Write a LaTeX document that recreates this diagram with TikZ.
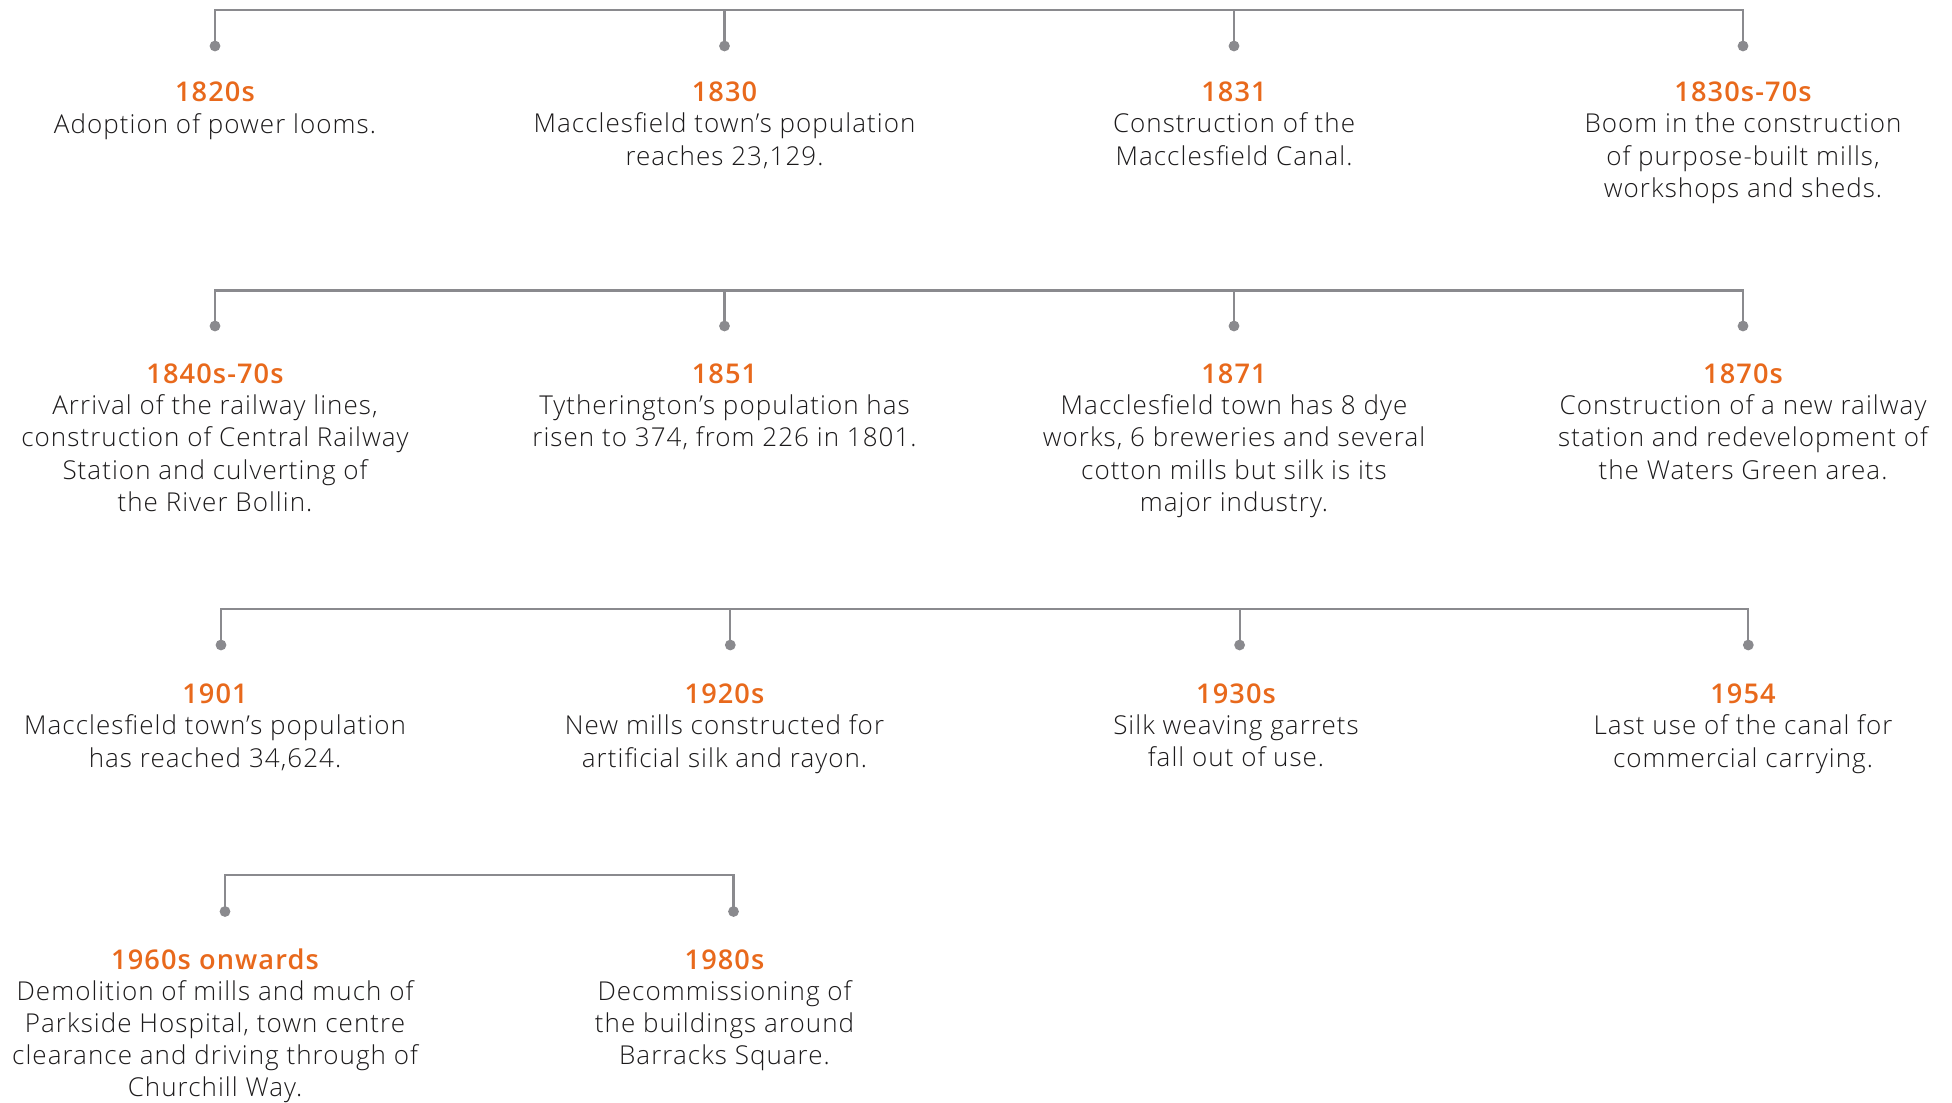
\documentclass[tikz,border=0pt]{standalone}
\usepackage{fontspec}
\setmainfont{Open Sans}[UprightFont=* Light,LetterSpace=4]
\usetikzlibrary{positioning,calc}
\definecolor{milorange}{HTML}{E8691C}
\definecolor{railgrey}{HTML}{8A8A8E}
\definecolor{bodytext}{HTML}{1C1A1B}

\begin{document}
\begin{tikzpicture}[x=.5pt,y=-.5pt,
  rail/.style={draw=railgrey,line width=1.1pt},
  dot/.style={circle,fill=railgrey,inner sep=0pt,minimum size=5.4pt},
  year/.style={anchor=base,inner sep=0pt,text=milorange,font=\fontsize{13.6}{16.15}\selectfont\bfseries},
  desc/.style={inner sep=0pt,align=center,text=bodytext,font=\fontsize{13}{16.15}\selectfont,
    execute at begin node=\strut}]
\useasboundingbox (0,0) rectangle (1952,1102);

% first row: 1820s to 1870s
\coordinate (r1) at (0,10);
\node[dot] (p11) at (215,46) {};
\node[dot] (p12) at (724.5,46) {};
\node[dot] (p13) at (1234,46) {};
\node[dot] (p14) at (1743,46) {};
\draw[rail] (p11.center) |- (p14.center |- r1) -- (p14.center);
\draw[rail] (p12.center) -- (p12.center |- r1);
\draw[rail] (p13.center) -- (p13.center |- r1);
\node[year] (y1820s) at (215,102) {1820s};
\node[desc,below=4.35pt of y1820s.base] (d1820s) {Adoption of power looms.};
\node[year] (y1830) at (724.5,102) {1830};
\node[desc,below=5.35pt of y1830.base] (d1830) {Macclesfield town’s population\\reaches 23,129.};
\node[year] (y1831) at (1234,102) {1831};
\node[desc,below=5.35pt of y1831.base] (d1831) {Construction of the\\Macclesfield Canal.};
\node[year] (y1830s) at (1743,102) {1830s-70s};
\node[desc,below=5.35pt of y1830s.base] (d1830s) {Boom in the construction\\of purpose-built mills,\\workshops and sheds.};

% second row: 1840s to 1870s
\coordinate (r2) at (0,290.5);
\node[dot] (p21) at (215,326) {};
\node[dot] (p22) at (724.5,326) {};
\node[dot] (p23) at (1234,326) {};
\node[dot] (p24) at (1743,326) {};
\draw[rail] (p21.center) |- (p24.center |- r2) -- (p24.center);
\draw[rail] (p22.center) -- (p22.center |- r2);
\draw[rail] (p23.center) -- (p23.center |- r2);
\node[year] (y1840s) at (215,383.7) {1840s-70s};
\node[desc,below=5.35pt of y1840s.base] (d1840s) {Arrival of the railway lines,\\construction of Central Railway\\Station and culverting of\\the River Bollin.};
\node[year] (y1851) at (724.5,383.7) {1851};
\node[desc,below=5.35pt of y1851.base] (d1851) {Tytherington’s population has\\risen to 374, from 226 in 1801.};
\node[year] (y1871) at (1234,383.7) {1871};
\node[desc,below=5.35pt of y1871.base] (d1871) {Macclesfield town has 8 dye\\works, 6 breweries and several\\cotton mills but silk is its\\major industry.};
\node[year] (y1870s) at (1743,383.7) {1870s};
\node[desc,below=5.35pt of y1870s.base] (d1870s) {Construction of a new railway\\station and redevelopment of\\the Waters Green area.};

% third row: 1901 to 1954
\coordinate (r3) at (0,609.3);
\node[dot] (p31) at (221,645) {};
\node[dot] (p32) at (730.3,645) {};
\node[dot] (p33) at (1239.6,645) {};
\node[dot] (p34) at (1748.3,645) {};
\draw[rail] (p31.center) |- (p34.center |- r3) -- (p34.center);
\draw[rail] (p32.center) -- (p32.center |- r3);
\draw[rail] (p33.center) -- (p33.center |- r3);
\node[year] (y1901) at (215,703.7) {1901};
\node[desc,below=5.35pt of y1901.base] (d1901) {Macclesfield town’s population\\has reached 34,624.};
\node[year] (y1920s) at (724.5,703.7) {1920s};
\node[desc,below=5.35pt of y1920s.base] (d1920s) {New mills constructed for\\artificial silk and rayon.};
\node[year] (y1930s) at (1236,703.7) {1930s};
\node[desc,below=5.35pt of y1930s.base] (d1930s) {Silk weaving garrets\\fall out of use.};
\node[year] (y1954) at (1743,703.7) {1954};
\node[desc,below=5.35pt of y1954.base] (d1954) {Last use of the canal for\\commercial carrying.};

% fourth row: 1960s and 1980s
\coordinate (r4) at (0,875);
\node[dot] (p41) at (225,911.5) {};
\node[dot] (p42) at (733.5,911.5) {};
\draw[rail] (p41.center) |- (p42.center |- r4) -- (p42.center);
\node[year] (y1960s) at (215,969) {1960s onwards};
\node[desc,below=5.35pt of y1960s.base] (d1960s) {Demolition of mills and much of\\Parkside Hospital, town centre\\clearance and driving through of\\Churchill Way.};
\node[year] (y1980s) at (724.5,969) {1980s};
\node[desc,below=5.35pt of y1980s.base] (d1980s) {Decommissioning of\\the buildings around\\Barracks Square.};
\end{tikzpicture}
\end{document}
